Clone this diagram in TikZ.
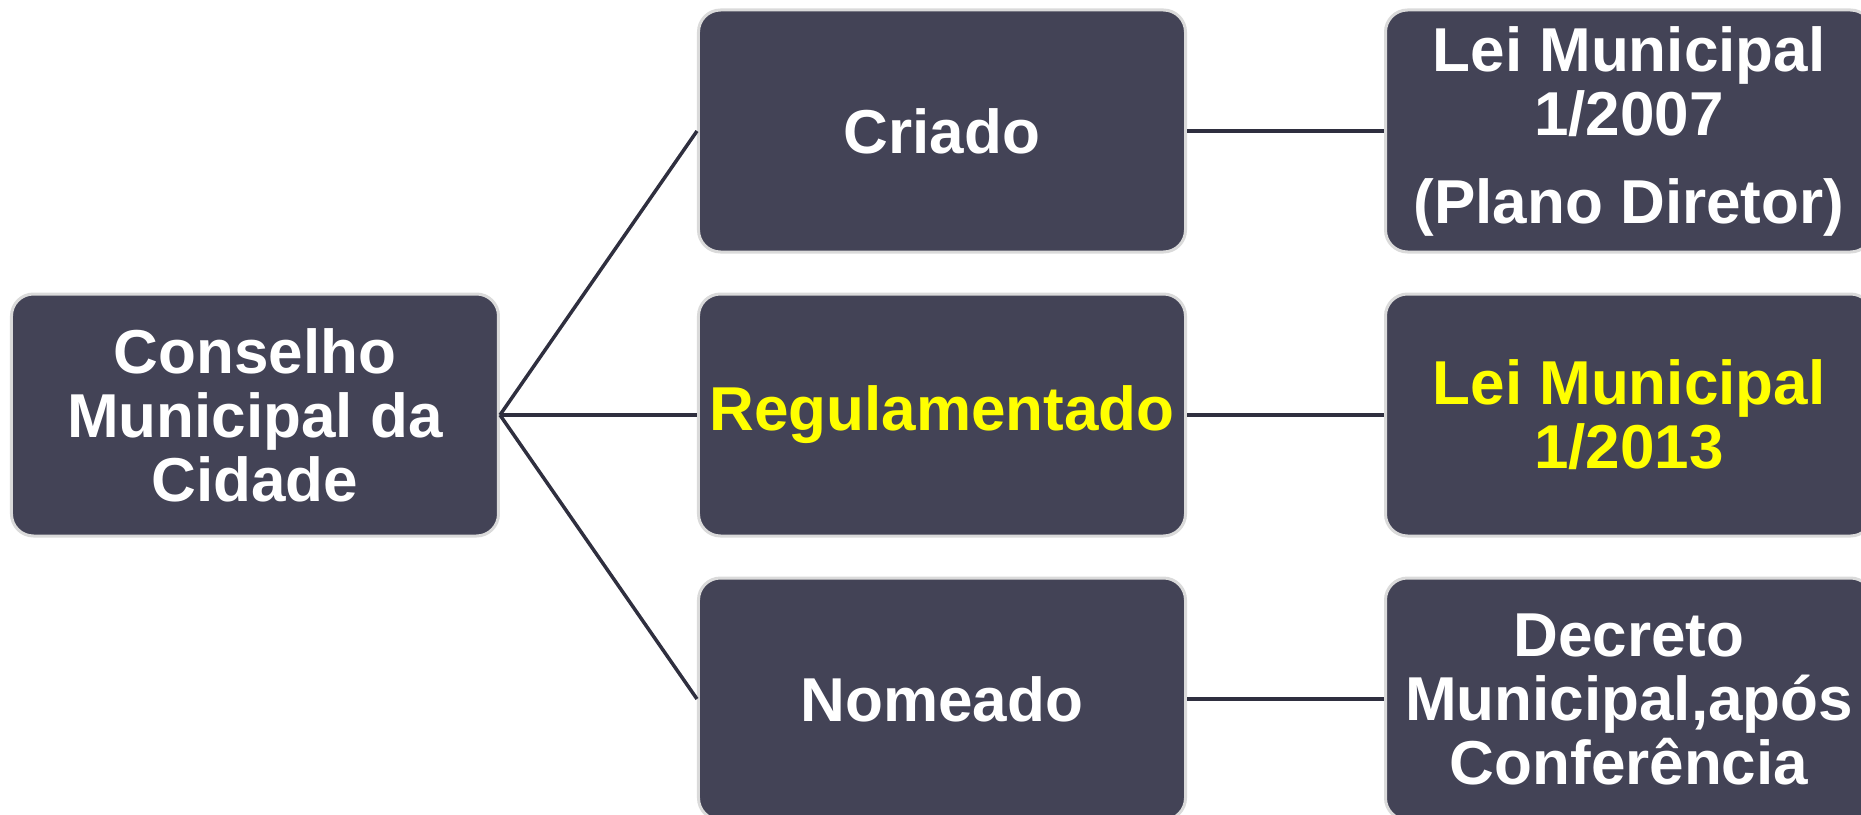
\documentclass[tikz,border=0pt]{standalone}
\usepackage{fontspec}
\setmainfont{Liberation Sans}
\usepackage{tikz}
\usetikzlibrary{positioning}
\usepackage{xcolor}
\definecolor{cmcslate}{HTML}{434356}
\definecolor{cmcedge}{HTML}{DADADA}
\definecolor{cmcline}{HTML}{2F2F3F}
\definecolor{cmcyellow}{HTML}{FFFF00}

\begin{document}
\begin{tikzpicture}[
    node distance=19.5pt and 98.5pt,
    box/.style={draw=cmcedge, line width=1.5pt, fill=cmcslate, rounded corners=11pt,
                minimum width=243.5pt, minimum height=121pt, inner sep=2pt,
                align=center, text=white,
                font=\fontsize{31}{32}\selectfont\bfseries},
    hi/.style={box, text=cmcyellow},
    link/.style={cmcline, line width=1.75pt}]
  \useasboundingbox (-471pt,-199.5pt) rectangle (459.5pt,207.5pt);
  \clip (-471pt,-199.5pt) rectangle (459.5pt,207.5pt);
  \node[hi] (reg) at (0,0) {Regulamentado};
  \node[box, above=of reg] (cri) {Criado};
  \node[box, below=of reg] (nom) {Nomeado};
  \node[box, left=of reg] (cons) {Conselho\\Municipal da\\Cidade};
  \node[box, right=of cri] (lei07) {Lei Municipal\\1/2007\\[12pt](Plano Diretor)};
  \node[hi, right=of reg] (lei13) {Lei Municipal\\1/2013};
  \node[box, right=of nom] (dec) {Decreto\\Municipal,após\\Conferência};
  \draw[link] (cons.east) -- (cri.west);
  \draw[link] (cons.east) -- (reg.west);
  \draw[link] (cons.east) -- (nom.west);
  \draw[link] (cri) -- (lei07); \draw[link] (reg) -- (lei13);
  \draw[link] (nom) -- (dec);
\end{tikzpicture}
\end{document}
